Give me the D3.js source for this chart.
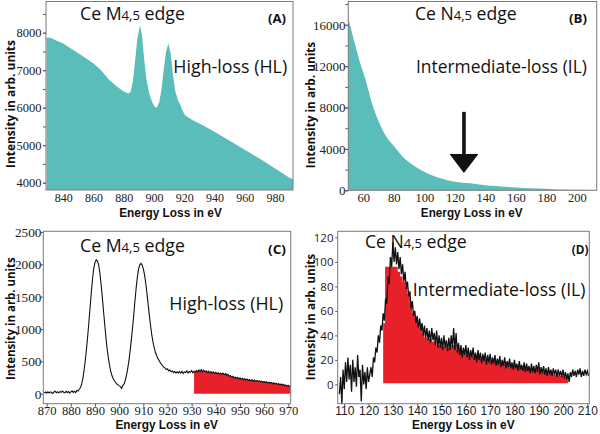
<!DOCTYPE html>
<html><head><meta charset="utf-8">
<script src="https://cdn.jsdelivr.net/npm/d3@7"></script>
<style>body{margin:0;background:#fff}svg{display:block}</style>
</head><body><svg id="c" width="600" height="434"></svg>
<script>
// ---------- DATA ----------
// (A) Ce M4,5 high-loss raw spectrum [energy eV, intensity]
const specA = [[829,7860],[830,7875],[832,7860],[835,7800],[840,7715],[845,7580],[850,7450],[855,7320],[860,7180],[865,7000],[870,6760],[875,6580],[880,6430],[883,6380],[884.5,6420],[886,6700],[887.5,7250],[889,7850],[890.7,8200],[892,7950],[893.5,7300],[895,6750],[897,6350],[899,6130],[900.6,6010],[902,6010],[903.5,6150],[905,6500],[906.5,7050],[908,7500],[909.5,7715],[911,7450],[912.5,6900],[914,6450],[916,6180],[917.2,6100],[918.5,5950],[920.5,5800],[925,5680],[930,5580],[935,5470],[940,5360],[945,5240],[950,5120],[955,5000],[960,4880],[965,4760],[970,4640],[975,4510],[980,4380],[985,4250],[990,4120],[992,4100]];
// (B) Ce N4,5 intermediate-loss raw spectrum
const specB = [[50,16800],[52,15600],[55,13900],[58,12300],[60,11400],[63,9900],[66,8300],[70,6700],[75,5200],[80,4300],[85,3400],[90,2700],[95,2200],[100,1800],[105,1450],[110,1180],[115,980],[120,830],[125,740],[130,670],[135,580],[140,500],[145,430],[150,370],[160,280],[170,210],[180,150],[185,110],[190,80],[200,55],[210,40],[213,35]];
// (C) background-subtracted M4,5 edge
const specC = [[869,10],[869.5,25],[870,8],[870.5,30],[871,12],[871.5,28],[872,18],[872.5,4],[873,26],[873.5,38],[874,14],[874.5,30],[875,10],[875.5,34],[876,20],[876.5,40],[877,22],[877.5,12],[878,36],[878.5,18],[879,32],[879.5,8],[880,28],[880.5,44],[881,20],[881.5,36],[882,18],[882.5,50],[883,42],[883.5,68],[884,96],[884.5,150],[885,240],[885.5,370],[886,520],[886.5,700],[887,900],[887.5,1120],[888,1350],[888.5,1580],[889,1780],[889.5,1940],[890,2030],[890.5,2070],[891,2050],[891.5,1990],[892,1870],[892.5,1700],[893,1500],[893.5,1290],[894,1080],[894.5,880],[895,700],[895.5,560],[896,440],[896.5,350],[897,280],[897.5,236],[898,200],[898.5,176],[899,150],[899.5,140],[900,120],[900.5,110],[901,80],[901.5,125],[902,150],[902.5,200],[903,280],[903.5,380],[904,500],[904.5,650],[905,820],[905.5,1000],[906,1200],[906.5,1420],[907,1620],[907.5,1790],[908,1920],[908.5,1990],[909,2015],[909.5,1990],[910,1930],[910.5,1840],[911,1710],[911.5,1550],[912,1380],[912.5,1210],[913,1050],[913.5,910],[914,800],[914.5,710],[915,640],[915.5,590],[916,545],[916.5,515],[917,480],[917.5,455],[918,430],[918.5,410],[919,395],[919.5,372],[920,385],[920.5,352],[921,366],[921.5,338],[922,350],[922.5,326],[923,344],[923.5,318],[924,338],[924.5,320],[925,342],[925.5,318],[926,346],[926.5,312],[927,336],[927.5,326],[928,352],[928.5,318],[929,342],[929.5,330],[930,356],[930.5,322],[931,346],[931.5,330],[932,360],[932.5,334],[933,366],[933.5,340],[934,372],[934.5,338],[935,362],[935.5,336],[936,352],[936.5,326],[937,348],[937.5,322],[938,340],[938.5,316],[939,336],[939.5,312],[940,330],[940.5,306],[941,326],[941.5,300],[942,320],[942.5,298],[943,318],[943.5,292],[944,310],[944.5,288],[945,300],[945.5,270],[946,282],[946.5,256],[947,268],[947.5,244],[948,258],[948.5,236],[949,250],[949.5,228],[950,244],[950.5,222],[951,238],[951.5,214],[952,232],[952.5,210],[953,226],[953.5,204],[954,220],[954.5,198],[955,214],[955.5,196],[956,210],[956.5,190],[957,204],[957.5,186],[958,200],[958.5,180],[959,194],[959.5,176],[960,188],[960.5,170],[961,184],[961.5,164],[962,178],[962.5,160],[963,172],[963.5,154],[964,168],[964.5,148],[965,162],[965.5,144],[966,156],[966.5,138],[967,150],[967.5,130],[968,144],[968.5,124],[969,136],[969.5,118],[970,128],[970.5,110],[971,122]];
const redStartC = 931;
// (D) background-subtracted N4,5 edge
const specD = [[108,-8],[108.5,6],[109,-16],[109.5,12],[110,-4],[110.5,18],[111,2],[111.5,22],[112,4],[112.5,16],[113,-6],[113.5,20],[114,2],[114.5,14],[115,-2],[115.5,24],[116,6],[116.5,12],[117,-14],[117.5,16],[118,0],[118.5,10],[119,-4],[119.5,14],[120,2],[120.5,8],[121,14],[121.5,6],[122,22],[122.5,18],[123,30],[123.5,26],[124,40],[124.5,34],[125,48],[125.5,44],[126,58],[126.5,52],[127,70],[127.5,66],[128,88],[128.5,82],[129,104],[129.5,96],[130,116],[130.5,100],[131,112],[131.5,98],[132,108],[132.5,94],[133,104],[133.5,90],[134,98],[134.5,84],[135,92],[135.5,78],[136,84],[136.5,72],[137,76],[137.5,62],[138,68],[138.5,56],[139,60],[139.5,50],[140,56],[140.5,46],[141,54],[141.5,44],[142,50],[142.5,40],[143,48],[143.5,38],[144,46],[144.5,36],[145,44],[145.5,34],[146,46],[146.5,36],[147,42],[147.5,32],[148,44],[148.5,30],[149,40],[149.5,30],[150,38],[150.5,28],[151,40],[151.5,30],[152,36],[152.5,27],[153,38],[153.5,28],[154,40],[154.5,30],[155,46],[155.5,28],[156,42],[156.5,26],[157,34],[157.5,24],[158,32],[158.5,22],[159,30],[159.5,24],[160,32],[160.5,22],[161,30],[161.5,20],[162,28],[162.5,22],[163,30],[163.5,20],[164,26],[164.5,18],[165,28],[165.5,20],[166,26],[166.5,17],[167,25],[167.5,19],[168,26],[168.5,16],[169,24],[169.5,18],[170,25],[170.5,16],[171,22],[171.5,17],[172,24],[172.5,15],[173,21],[173.5,16],[174,23],[174.5,14],[175,20],[175.5,15],[176,22],[176.5,13],[177,19],[177.5,14],[178,21],[178.5,13],[179,18],[179.5,12],[180,20],[180.5,13],[181,17],[181.5,11],[182,19],[182.5,12],[183,16],[183.5,11],[184,18],[184.5,10],[185,17],[185.5,11],[186,15],[186.5,9],[187,17],[187.5,10],[188,15],[188.5,9],[189,16],[189.5,10],[190,18],[190.5,8],[191,14],[191.5,9],[192,15],[192.5,8],[193,13],[193.5,7],[194,14],[194.5,8],[195,12],[195.5,7],[196,13],[196.5,8],[197,12],[197.5,6],[198,12],[198.5,7],[199,11],[199.5,6],[200,12],[200.5,5],[201,10],[201.5,4],[202,9],[202.5,2],[203,10],[203.5,6],[204,12],[204.5,7],[205,11],[205.5,6],[206,12],[206.5,8],[207,13],[207.5,6],[208,11],[208.5,7],[209,12],[209.5,8],[210,11],[210.5,7]];
// (D) red integration window (background-subtracted signal)
const redD = [[126,50],[126.8,96],[131,96],[132,92],[133,88],[134,84],[135,80],[136,74],[137,66],[138,58],[139,54],[140,50],[141,46],[142,42],[143,38],[144,37],[146,35],[148,32],[150,31],[152,30],[154,32],[156,28],[158,26],[160,24],[162,23],[164,24],[166,21],[168,20],[170,19],[172,18],[174,17],[176,16],[178,16],[180,15],[182,14],[184,13],[186,13],[188,12],[190,11],[192,10],[194,9],[196,8],[198,7],[200,6],[202,5]];
// arrow in (B): [energy, from intensity, to intensity]
const arrowB = [126, 7580, 1675];

// tick values
const aXTicks = [840,860,880,900,920,940,960,980];
const aYTicks = [4000,5000,6000,7000,8000];
const aYMinor = [4000,4500,5000,5500,6000,6500,7000,7500,8000,8500];
const bXTicks = [60,80,100,120,140,160,180,200];
const bYTicks = [0,4000,8000,12000,16000];
const bYMinor = [0,2000,4000,6000,8000,10000,12000,14000,16000,18000];
const cXTicks = [870,880,890,900,910,920,930,940,950,960,970];
const cYTicks = [0,500,1000,1500,2000,2500];
const dXTicks = [110,120,130,140,150,160,170,180,190,200,210];
const dYTicks = [0,20,40,60,80,100,120];

// texts
const xTitle = "Energy Loss in eV";
const yTitle = "Intensity in arb. units";
const edgeM = ["Ce M", "4,5", " edge"];
const edgeN = ["Ce N", "4,5", " edge"];
const hlLabel = "High-loss (HL)";
const ilLabel = "Intermediate-loss (IL)";
const panelTags = ["(A)", "(B)", "(C)", "(D)"];

// ---------- DRAW ----------
const svg = d3.select("#c");
const TEAL = "#5bbdb9", RED = "#e8202a", FRAME = "#7a7a7a";
const SANS = "'Open Sans', 'Noto Sans', sans-serif";
const TITLE = "'Liberation Sans', Arial, sans-serif";
const SERIF = "'Liberation Serif', 'Times New Roman', serif";

function makePanel(id, box, xDom, yDom) {
  const x = d3.scaleLinear().domain(xDom).range([box.l, box.r]);
  const y = d3.scaleLinear().domain(yDom).range([box.b, box.t]);
  svg.append("clipPath").attr("id", "clip" + id).append("rect")
    .attr("x", box.l).attr("y", box.t).attr("width", box.r - box.l).attr("height", box.b - box.t);
  const g = svg.append("g").attr("clip-path", `url(#clip${id})`);
  return {x, y, g, box};
}
function frame(p) {
  svg.append("rect").attr("x", p.box.l).attr("y", p.box.t)
    .attr("width", p.box.r - p.box.l).attr("height", p.box.b - p.box.t)
    .attr("fill", "none").attr("stroke", FRAME).attr("stroke-width", 1);
}
function axes(p, o) {
  const xa = svg.append("g").attr("transform", `translate(0,${p.box.b})`)
    .call(d3.axisBottom(p.x).tickValues(o.xTicks).tickSize(o.xTickLen).tickFormat(d3.format("d")));
  xa.select(".domain").remove();
  xa.selectAll("line").attr("stroke", "#555");
  xa.selectAll("text").attr("y", o.xBase - p.box.b).attr("dy", 0)
    .style("font-family", o.xFont || o.font).style("font-size", o.xSize + "px").attr("fill", "#222");
  if (o.yMinor) {
    const ym = svg.append("g").attr("transform", `translate(${p.box.l},0)`)
      .call(d3.axisLeft(p.y).tickValues(o.yMinor).tickSize(o.yTickLen).tickFormat(""));
    ym.select(".domain").remove();
    ym.selectAll("line").attr("stroke", "#555");
  }
  const ya = svg.append("g").attr("transform", `translate(${p.box.l},0)`)
    .call(d3.axisLeft(p.y).tickValues(o.yTicks).tickSize(o.yTickLen).tickFormat(d3.format("d")));
  ya.select(".domain").remove();
  ya.selectAll("line").attr("stroke", "#555");
  ya.selectAll("text").attr("x", o.yRight - p.box.l).attr("dy", "0.34em")
    .style("font-family", o.font).style("font-size", o.ySize + "px").attr("fill", "#222");
}
function fitText(t, x0, width) {
  const w = t.node().getBBox().width;
  const s = width / w;
  t.attr("transform", `translate(${x0},0) scale(${s},1) translate(${-x0},0)`);
}
function label(parts, x, y, size, width, weight) {
  const t = svg.append("text").attr("x", x).attr("y", y)
    .style("font-family", SANS).style("font-size", size + "px")
    .style("font-weight", weight || 400).attr("fill", "#111");
  if (typeof parts === "string") t.text(parts);
  else parts.forEach((s, i) => t.append("tspan").text(s)
      .style("font-size", (i === 1 ? size * 0.74 : size) + "px"));
  fitText(t, x, width);
  return t;
}
function xTitleAt(cx, base, width) {
  const t = svg.append("text").attr("x", cx).attr("y", base).attr("text-anchor", "middle")
    .style("font-family", TITLE).style("font-size", "13px").style("font-weight", 700)
    .attr("fill", "#111").text(xTitle);
  fitText(t, cx, width);
}
function yTitleAt(bx, cy, len) {
  const t = svg.append("text").attr("text-anchor", "middle")
    .style("font-family", SANS).style("font-size", "13px").style("font-weight", 700)
    .attr("fill", "#111").text(yTitle);
  const w = t.node().getBBox().width;
  t.attr("transform", `translate(${bx},${cy}) rotate(-90) scale(${len / w},1)`);
}

// Panel A
const pA = makePanel("A", {l: 46, r: 293, t: 1.5, b: 190}, [828.6, 991.9], [3805, 8832]);
pA.g.append("path").datum(specA)
  .attr("d", d3.area().x(d => pA.x(d[0])).y0(pA.box.b + 2).y1(d => pA.y(d[1])))
  .attr("fill", TEAL);
axes(pA, {xTicks: aXTicks, xTickLen: 0, xBase: 201.7, yTicks: aYTicks, yMinor: aYMinor, yTickLen: 3, yRight: 41.5, font: SERIF, xSize: 12, ySize: 12.5});
frame(pA);

// Panel B
const pB = makePanel("B", {l: 348.3, r: 596.7, t: 1.5, b: 190.3}, [50.2, 213], [0, 18250]);
pB.g.append("path").datum(specB)
  .attr("d", d3.area().curve(d3.curveMonotoneX).x(d => pB.x(d[0])).y0(pB.y(0) + 2).y1(d => pB.y(d[1])))
  .attr("fill", TEAL);
axes(pB, {xTicks: bXTicks, xTickLen: 0, xBase: 201.7, yTicks: bYTicks, yMinor: bYMinor, yTickLen: 3, yRight: 345.5, font: SERIF, xSize: 12.5, ySize: 13});
frame(pB);
// arrow
{
  const ax = pB.x(arrowB[0]);
  const yTop = pB.y(arrowB[1]), yTip = pB.y(arrowB[2]);
  svg.append("line").attr("x1", ax).attr("x2", ax).attr("y1", yTop).attr("y2", yTip - 12)
    .attr("stroke", "#111").attr("stroke-width", 3.6);
  svg.append("path").attr("d", `M${ax - 14.5},${yTip - 19}L${ax + 14.5},${yTip - 19}L${ax},${yTip}Z`).attr("fill", "#111");
}

// Panel C
const pC = makePanel("C", {l: 43.3, r: 290.7, t: 231.3, b: 403.7}, [868.6, 971], [-155, 2510]);
pC.g.append("path").datum(specC.filter(d => d[0] >= redStartC))
  .attr("d", d3.area().x(d => pC.x(d[0])).y0(pC.y(0)).y1(d => pC.y(d[1])))
  .attr("fill", RED);
pC.g.append("path").datum(specC)
  .attr("d", d3.line().x(d => pC.x(d[0])).y(d => pC.y(d[1])))
  .attr("fill", "none").attr("stroke", "#111").attr("stroke-width", 1.1);
axes(pC, {xTicks: cXTicks, xTickLen: 3, xBase: 414.8, yTicks: cYTicks, yTickLen: 2.5, yRight: 41.5, font: SERIF, xSize: 12.6, ySize: 13.3});
frame(pC);

// Panel D
const pD = makePanel("D", {l: 337.7, r: 589.3, t: 231.3, b: 403.7}, [107.3, 210.8], [-15.8, 125]);
pD.g.append("path").datum(redD)
  .attr("d", d3.area().curve(d3.curveStepAfter).x(d => pD.x(d[0])).y0(pD.y(1)).y1(d => pD.y(d[1])))
  .attr("fill", RED);
pD.g.append("path").datum(specD)
  .attr("d", d3.line().x(d => pD.x(d[0])).y(d => pD.y(d[1])))
  .attr("fill", "none").attr("stroke", "#111").attr("stroke-width", 1.3);
axes(pD, {xTicks: dXTicks, xTickLen: 3, xBase: 414.8, yTicks: dYTicks, yTickLen: 2.5, yRight: 333.5, font: SANS, xFont: TITLE, xSize: 12, ySize: 11.5});
frame(pD);

// annotations
label(edgeM, 80, 20, 17.5, 105);
label(panelTags[0], 268, 23, 12, 18, 700);
label(hlLabel, 173.3, 72.7, 17.5, 114);
label(edgeN, 415, 20, 17.5, 101.7);
label(panelTags[1], 569, 23, 12, 18, 700);
label(ilLabel, 416, 73.3, 17.5, 171);
label(edgeM, 80, 252, 17.5, 105);
label(panelTags[2], 268, 253.7, 12, 18, 700);
label(hlLabel, 169.3, 309.7, 17.5, 114);
label(edgeN, 365, 247.7, 17.5, 101.7);
label(panelTags[3], 571.7, 253.7, 12, 16.7, 700);
label(ilLabel, 412.7, 296.3, 17.5, 173);

xTitleAt(170.5, 216.7, 103);
xTitleAt(471.7, 216.7, 102);
xTitleAt(166.7, 429, 103);
xTitleAt(463.3, 429, 103);
yTitleAt(14.5, 104, 128);
yTitleAt(314.5, 105, 126.6);
yTitleAt(15, 318.7, 123);
yTitleAt(315, 317, 126.6);
</script></body></html>
